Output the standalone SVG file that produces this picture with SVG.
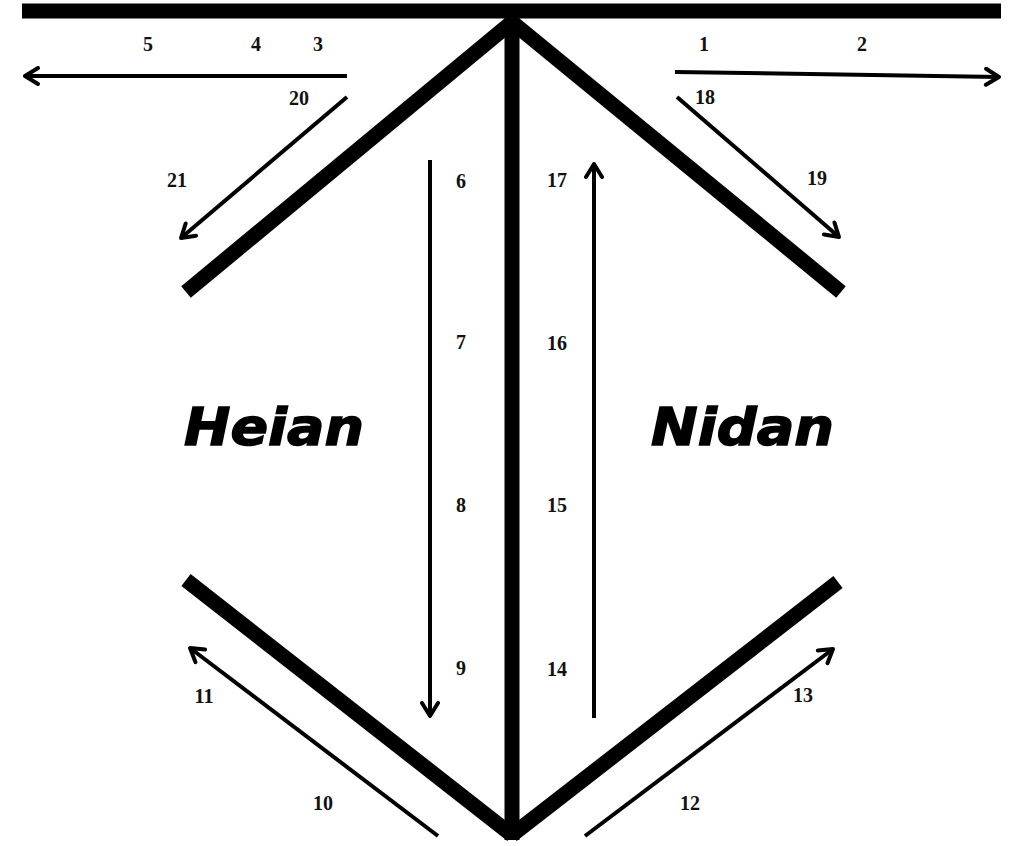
<svg xmlns="http://www.w3.org/2000/svg" width="1024" height="846" viewBox="0 0 1024 846">
<style>
.bar{stroke:#000;stroke-width:15;fill:none;stroke-linecap:butt}
.arr{stroke:#000;stroke-width:4;fill:none}
.num{font-family:"Liberation Serif","DejaVu Serif",serif;font-weight:bold;font-size:20px;fill:#111;text-anchor:middle;dominant-baseline:central}
.title{font-family:"DejaVu Sans","Liberation Sans",sans-serif;font-weight:bold;font-style:oblique;font-size:52px;fill:#000;stroke:#000;stroke-width:1.5}
</style>
<defs>
<marker id="ah" viewBox="0 0 20 20" refX="17" refY="10" markerWidth="20" markerHeight="20" markerUnits="userSpaceOnUse" orient="auto">
<path d="M4,2 L17,10 L4,18" fill="none" stroke="#000" stroke-width="4" stroke-linecap="round" stroke-linejoin="round"/>
</marker>
</defs>
<rect width="1024" height="846" fill="#fff"/>
<g id="frame">
<line class="bar" x1="22" y1="11" x2="1001" y2="11"/>
<line class="bar" x1="512" y1="12" x2="512" y2="840"/>
<line class="bar" x1="512" y1="22" x2="186" y2="292"/>
<line class="bar" x1="512" y1="22" x2="841" y2="292"/>
<line class="bar" x1="186" y1="580" x2="512" y2="835"/>
<line class="bar" x1="838" y1="582" x2="512" y2="835"/>
</g>
<g id="connectors">
<line class="arr" x1="347" y1="76" x2="25" y2="76" marker-end="url(#ah)"/>
<line class="arr" x1="675" y1="72" x2="999" y2="77" marker-end="url(#ah)"/>
<line class="arr" x1="347" y1="97" x2="181" y2="238" marker-end="url(#ah)"/>
<line class="arr" x1="677" y1="97" x2="839" y2="237" marker-end="url(#ah)"/>
<line class="arr" x1="430" y1="160" x2="430" y2="716" marker-end="url(#ah)"/>
<line class="arr" x1="594" y1="718" x2="594" y2="164" marker-end="url(#ah)"/>
<line class="arr" x1="438" y1="836" x2="190" y2="648" marker-end="url(#ah)"/>
<line class="arr" x1="585" y1="836" x2="833" y2="649" marker-end="url(#ah)"/>
</g>
<g id="labels">
<text class="title" x="184" y="445" textLength="180" lengthAdjust="spacingAndGlyphs">Heian</text>
<text class="title" x="651" y="445" textLength="183" lengthAdjust="spacingAndGlyphs">Nidan</text>
<text class="num" x="148" y="44">5</text>
<text class="num" x="256" y="44">4</text>
<text class="num" x="318" y="44">3</text>
<text class="num" x="704" y="44">1</text>
<text class="num" x="862" y="44">2</text>
<text class="num" x="299" y="98">20</text>
<text class="num" x="705" y="97">18</text>
<text class="num" x="177" y="180">21</text>
<text class="num" x="817" y="178">19</text>
<text class="num" x="461" y="181">6</text>
<text class="num" x="557" y="180">17</text>
<text class="num" x="461" y="342">7</text>
<text class="num" x="557" y="343">16</text>
<text class="num" x="461" y="505">8</text>
<text class="num" x="557" y="505">15</text>
<text class="num" x="461" y="668">9</text>
<text class="num" x="557" y="669">14</text>
<text class="num" x="204" y="696">11</text>
<text class="num" x="803" y="695">13</text>
<text class="num" x="323" y="803">10</text>
<text class="num" x="690" y="803">12</text>
</g>
</svg>
